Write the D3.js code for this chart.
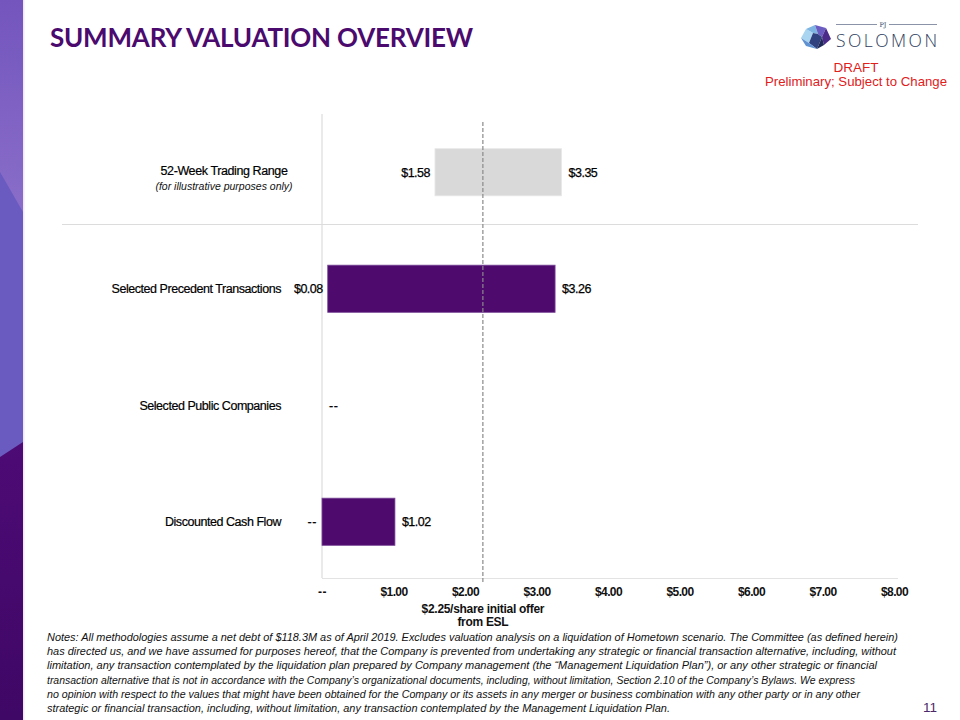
<!DOCTYPE html>
<html><head><meta charset="utf-8">
<script src="https://cdn.jsdelivr.net/npm/d3@7/dist/d3.min.js"></script>
<style>body{margin:0;background:#fff}svg{display:block}</style>
</head><body>
<script>
// ---- data ----
const categories = ["52-Week Trading Range", "Selected Precedent Transactions", "Selected Public Companies", "Discounted Cash Flow"];
const subtitles = ["(for illustrative purposes only)", "", "", ""];
const lowValues = [1.58, 0.08, null, 0];
const highValues = [3.35, 3.26, null, 1.02];
const lowLabels = ["$1.58", "$0.08", "", "--"];
const highLabels = ["$3.35", "$3.26", "--", "$1.02"];
const barKinds = ["market", "valuation", "valuation", "valuation"];
const tickValues = [0, 1, 2, 3, 4, 5, 6, 7, 8];
const tickLabels = ["--", "$1.00", "$2.00", "$3.00", "$4.00", "$5.00", "$6.00", "$7.00", "$8.00"];
const offerValue = 2.25;
const offerLabel = ["$2.25/share initial offer", "from ESL"];
const notes = [
 "Notes: All methodologies assume a net debt of $118.3M as of April 2019. Excludes valuation analysis on a liquidation of Hometown scenario. The Committee (as defined herein)",
 "has directed us, and we have assumed for purposes hereof, that the Company is prevented from undertaking any strategic or financial transaction alternative, including, without",
 "limitation, any transaction contemplated by the liquidation plan prepared by Company management (the \u201cManagement Liquidation Plan\u201d), or any other strategic or financial",
 "transaction alternative that is not in accordance with the Company\u2019s organizational documents, including, without limitation, Section 2.10 of the Company\u2019s Bylaws. We express",
 "no opinion with respect to the values that might have been obtained for the Company or its assets in any merger or business combination with any other party or in any other",
 "strategic or financial transaction, including, without limitation, any transaction contemplated by the Management Liquidation Plan."
];
const noteEnds = [898, 896, 877, 855, 860, 670];

// ---- drawing ----
const W = 960, H = 720;
const svg = d3.select("body").append("svg").attr("width", W).attr("height", H)
  .style("font-family", "'Liberation Sans', Arial, sans-serif");

// left decorative strip
const defs = svg.append("defs");
const g1 = defs.append("linearGradient").attr("id","topg").attr("x1",0).attr("y1",0).attr("x2",0).attr("y2",1);
g1.append("stop").attr("offset","0%").attr("stop-color","#7355bd");
g1.append("stop").attr("offset","100%").attr("stop-color","#8a6ec9");
const g3 = defs.append("linearGradient").attr("id","botg").attr("x1",0).attr("y1",0).attr("x2",0).attr("y2",1);
g3.append("stop").attr("offset","0%").attr("stop-color","#4d0b75");
g3.append("stop").attr("offset","100%").attr("stop-color","#3f0766");
svg.append("rect").attr("x",0).attr("y",0).attr("width",23).attr("height",215).attr("fill","url(#topg)");
svg.append("polygon").attr("points","0,172 23,212 23,445 0,458").attr("fill","#6a5bc0");
svg.append("polygon").attr("points","0,457 23,442 23,720 0,720").attr("fill","url(#botg)");
svg.append("rect").attr("x",23).attr("y",0).attr("width",1.5).attr("height",H).attr("fill","#efe6f7");

// title
svg.append("text").attr("x",50).attr("y",47).text("SUMMARY VALUATION OVERVIEW")
  .attr("font-family","Lato, 'Open Sans', sans-serif").attr("font-weight",700).attr("font-size",26)
  .attr("fill","#4b0a6e").attr("textLength",423).attr("lengthAdjust","spacing");

// logo
const logo = svg.append("g");
const facets = [
 ["801,38 806,29 813,33 809,43","#a9d5f0"],
 ["806,29 815,25 818,34 813,33","#7db4e2"],
 ["815,25 826,28 822,37 818,34","#6b5cc2"],
 ["826,28 831,39 824,45 822,37","#4a2b8a"],
 ["809,43 813,33 818,34 822,37 817,49","#2f427f"],
 ["822,37 824,45 817,49","#1f2a5a"],
 ["801,38 809,43 817,49 806,46","#5f92d2"]
];
facets.forEach(f => logo.append("polygon").attr("points", f[0]).attr("fill", f[1]));
logo.append("line").attr("x1",836).attr("x2",877).attr("y1",24.5).attr("y2",24.5).attr("stroke","#8a93a8").attr("stroke-width",1);
logo.append("line").attr("x1",889).attr("x2",937).attr("y1",24.5).attr("y2",24.5).attr("stroke","#8a93a8").attr("stroke-width",1);
logo.append("text").attr("x",883).attr("y",26.5).attr("text-anchor","middle").attr("font-size",6.5)
  .attr("font-family","'DejaVu Serif', serif").attr("fill","#2b3b5c").text("PJ");
logo.append("text").attr("x",836).attr("y",47).attr("font-size",17.5).attr("font-weight",300)
  .attr("font-family","'Open Sans', 'DejaVu Sans', sans-serif").attr("fill","#2b3b5c")
  .attr("textLength",101).attr("lengthAdjust","spacing").text("SOLOMON");

svg.append("text").attr("x",856).attr("y",72).attr("text-anchor","middle").attr("font-size",13.5)
  .attr("fill","#e0201b").text("DRAFT");
svg.append("text").attr("x",947).attr("y",86).attr("text-anchor","end").attr("font-size",13.5)
  .attr("fill","#e0201b").attr("textLength",182).attr("lengthAdjust","spacingAndGlyphs").text("Preliminary; Subject to Change");

// scales
const x = d3.scaleLinear().domain([0, 8]).range([322, 894]);
const y = d3.scaleBand().domain(categories).range([114, 580]).padding(0);
const barH = y.bandwidth() * 0.405;
const axisY = 578;

// grid / axis lines
svg.append("line").attr("x1",x(0)).attr("x2",x(0)).attr("y1",114).attr("y2",axisY).attr("stroke","#dcdcdc").attr("stroke-width",1.2);
svg.append("line").attr("x1",62).attr("x2",918).attr("y1",224.5).attr("y2",224.5).attr("stroke","#dcdcdc").attr("stroke-width",1.2);

// x axis via d3.axisBottom
const xAxis = d3.axisBottom(x).tickValues(tickValues).tickFormat((d,i) => tickLabels[i]).tickSize(0).tickPadding(9);
const ax = svg.append("g").attr("transform",`translate(0,${axisY})`).call(xAxis);
ax.select(".domain").attr("stroke","#e3e3e3").attr("d",`M${x(0)},0.5H${x(8)+4}`);
ax.selectAll("text").attr("font-size",12).attr("font-weight","bold").attr("fill","#111")
  .attr("letter-spacing",(d,i) => tickLabels[i] === "--" ? 0.5 : -0.6).attr("font-family","'Liberation Sans', Arial, sans-serif");

// bars
const colors = {market:"#d9d9d9", valuation:"#4f0a6e"};
const strokes = {market:"#e8e8e8", valuation:"#7a4a98"};
const ls = t => t === "--" ? 0.6 : -0.5;
categories.forEach((c,i) => {
  const cy = y(c) + y.bandwidth()/2;
  if (lowValues[i] !== null && highValues[i] !== null) {
    svg.append("rect").attr("x",x(lowValues[i])).attr("y",cy - barH/2)
      .attr("width",x(highValues[i]) - x(lowValues[i])).attr("height",barH)
      .attr("fill",colors[barKinds[i]]).attr("stroke",strokes[barKinds[i]]).attr("stroke-width",0.8);
  }
  const lowX = lowValues[i] !== null ? x(lowValues[i]) : x(0);
  const highX = highValues[i] !== null ? x(highValues[i]) : x(0);
  if (lowLabels[i]) svg.append("text").attr("x",lowX - 5).attr("y",cy + 4.5).attr("text-anchor","end")
    .attr("font-size",12.5).attr("letter-spacing",ls(lowLabels[i])).attr("fill","#000").attr("stroke","#000").attr("stroke-width",0.25).text(lowLabels[i]);
  if (highLabels[i]) svg.append("text").attr("x",highX + 7).attr("y",cy + 4.5).attr("text-anchor","start")
    .attr("font-size",12.5).attr("letter-spacing",ls(highLabels[i])).attr("fill","#000").attr("stroke","#000").attr("stroke-width",0.25).text(highLabels[i]);
  // category labels
  if (subtitles[i]) {
    svg.append("text").attr("x",224).attr("y",cy + 3).attr("text-anchor","middle").attr("font-size",12.5)
      .attr("letter-spacing",-0.4).attr("fill","#000").attr("stroke","#000").attr("stroke-width",0.2).text(c);
    svg.append("text").attr("x",224).attr("y",cy + 18).attr("text-anchor","middle").attr("font-size",10.5)
      .attr("font-style","italic").attr("fill","#111").text(subtitles[i]);
  } else {
    svg.append("text").attr("x",281).attr("y",cy + 4.5).attr("text-anchor","end").attr("font-size",12.5)
      .attr("letter-spacing",-0.45).attr("fill","#000").attr("stroke","#000").attr("stroke-width",0.2).text(c);
  }
});

// offer dashed line
svg.append("line").attr("x1",x(offerValue)).attr("x2",x(offerValue)).attr("y1",122).attr("y2",584)
  .attr("stroke","#8a8a8a").attr("stroke-width",1.2).attr("stroke-dasharray","4,2");
offerLabel.forEach((t,i) => svg.append("text").attr("x",x(offerValue)).attr("y",613 + i*13)
  .attr("text-anchor","middle").attr("font-size",12).attr("letter-spacing",-0.3).attr("font-weight","bold").attr("fill","#111").text(t));

// notes
notes.forEach((t,i) => svg.append("text").attr("x",47).attr("y",641 + i*14.2).attr("font-size",11)
  .attr("font-style","italic").attr("fill","#111")
  .attr("textLength", noteEnds[i] - 47).attr("lengthAdjust","spacingAndGlyphs").text(t));

svg.append("text").attr("x",937).attr("y",712).attr("text-anchor","end").attr("font-size",13.5)
  .attr("fill","#4a2a68").text("11");
</script>
</body></html>
